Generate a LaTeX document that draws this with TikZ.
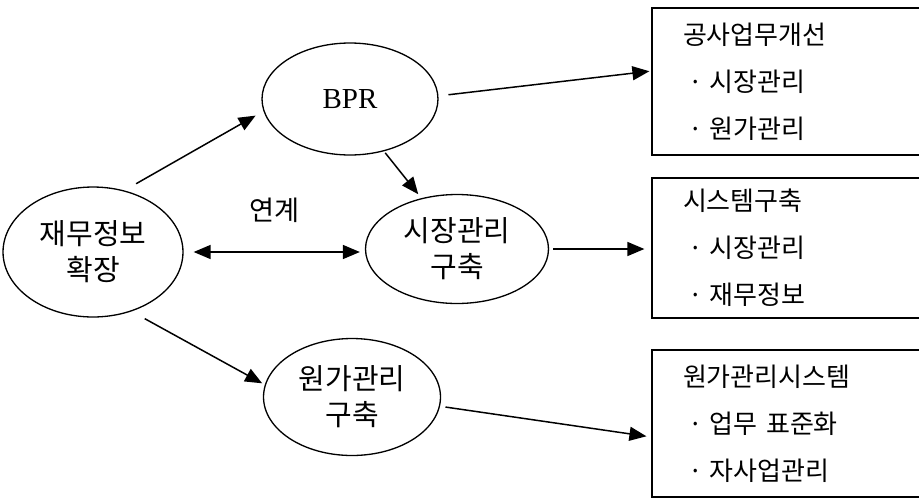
\documentclass[tikz,border=0pt]{standalone}
\usepackage{fontspec}
\setmainfont{Liberation Serif}
\newfontfamily\kr{Noto Sans CJK KR}
\usetikzlibrary{shapes.geometric,arrows.meta}
\begin{document}
\begin{tikzpicture}[x=0.02cm, y=-0.02cm]
	% Estilos
	\tikzstyle{oval} = [ellipse, draw=black, line width=0.75pt, inner sep=0pt, align=center, font=\kr\fontsize{16.5}{20.5}\selectfont]
	\tikzstyle{infobox} = [rectangle, draw=black, line width=0.75pt, inner xsep=0.62cm, inner ysep=0pt, text width=4.16cm, align=left, font=\kr\fontsize{14.8}{26.7}\selectfont]
	\tikzstyle{arrow} = [line width=0.85pt, -{Triangle[length=0.34cm,width=0.28cm]}]
	\tikzstyle{biarrow} = [line width=0.85pt, {Triangle[length=0.34cm,width=0.28cm]}-{Triangle[length=0.34cm,width=0.28cm]}]
	\useasboundingbox (0,0) rectangle (919,501);
	% Elipses
	\node (fin) [oval, minimum width=3.6cm, minimum height=2.6cm] at (93,252) {재무정보\\확장};
	\node (bpr) [oval, minimum width=3.52cm, minimum height=2.24cm, font=\rmfamily\fontsize{16.5}{18}\selectfont] at (350,99) {BPR};
	\node (mkt) [oval, minimum width=3.66cm, minimum height=2.18cm] at (457,249) {시장관리\\구축};
	\node (cost) [oval, minimum width=3.54cm, minimum height=2.34cm] at (352,397) {원가관리\\구축};
	% Caixas
	\node (sys1) [infobox, minimum height=2.94cm] at (787,81.5) {공사업무개선\\\hspace*{0.1cm}·\hspace{0.14cm}시장관리\\\hspace*{0.1cm}·\hspace{0.14cm}원가관리};
	\node (sys2) [infobox, minimum height=2.8cm] at (787,248) {시스템구축\\\hspace*{0.1cm}·\hspace{0.14cm}시장관리\\\hspace*{0.1cm}·\hspace{0.14cm}재무정보};
	\node (sys3) [infobox, minimum height=2.94cm] at (787,423.5) {원가관리시스템\\\hspace*{0.1cm}·\hspace{0.14cm}업무 표준화\\\hspace*{0.1cm}·\hspace{0.14cm}자사업관리};
	% Setas
	\draw [arrow, shorten <=0.27cm, shorten >=0.18cm] (fin.63) -- (bpr.188);
	\draw [arrow, shorten <=0.2cm, shorten >=0.04cm] (bpr.2) -- ([yshift=0.21cm]sys1.west);
	\draw [arrow, shorten <=0.04cm, shorten >=0.1cm] (bpr.303) -- (mkt.125);
	\draw [biarrow, shorten <=0.2cm, shorten >=0.1cm] (fin.east) -- (fin.east -| mkt.west)
		node (link) [midway, above=0.45cm, font=\kr\fontsize{15.5}{17}\selectfont] {연계};
	\draw [arrow, shorten <=0.08cm, shorten >=0.14cm] (mkt.east) -- (mkt.east -| sys2.west);
	\draw [arrow, shorten <=0.3cm, shorten >=0.06cm] (fin.303) -- (cost.172);
	\draw [arrow, shorten <=0.11cm, shorten >=0.1cm] (cost.354) -- ([yshift=-0.27cm]sys3.west);
\end{tikzpicture}
\end{document}
